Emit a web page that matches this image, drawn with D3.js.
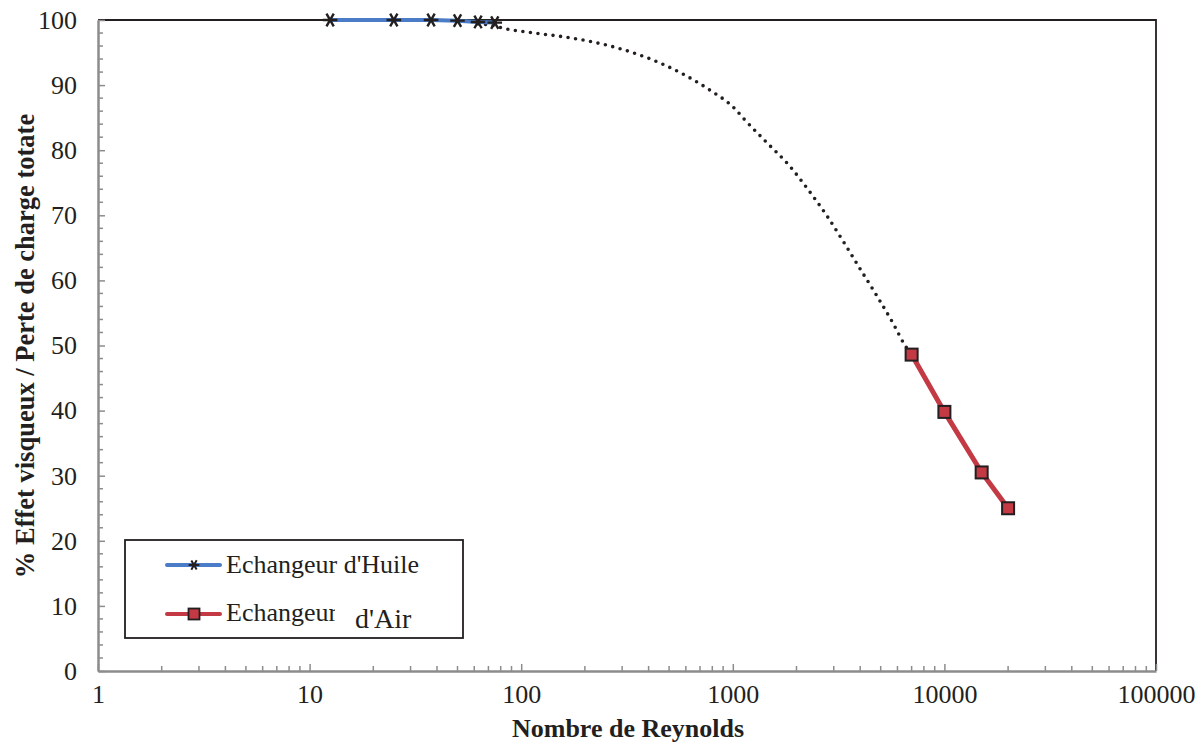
<!DOCTYPE html>
<html>
<head>
<meta charset="utf-8">
<script src="https://cdn.jsdelivr.net/npm/d3@7"></script>
</head>
<body style="margin:0">
<script>
// Echangeur d'Huile
var huileRe   = [12.5, 25, 37.5, 50, 62.5, 75];
var huileVal  = [100, 100, 100, 99.9, 99.7, 99.6];

// Echangeur d'Air
var airRe     = [7000, 10000, 15000, 20000];
var airVal    = [48.6, 39.8, 30.5, 25];

// courbe de transition (pointillé)
var transRe   = [62.5, 75, 83, 109, 152, 212, 300, 416, 566, 765, 1020, 1137, 1445, 1842, 2275, 2787, 3355, 4027, 4823, 5743, 6518, 7000];
var transVal  = [99.4, 99.1, 98.7, 98.1, 97.5, 96.7, 95.5, 93.9, 91.9, 89.4, 86.4, 84.7, 81.2, 77.7, 73.9, 69.9, 65.8, 61.6, 57.5, 53.3, 50.0, 48.6];

var xTicks    = [1, 10, 100, 1000, 10000, 100000];
var yTicks    = [0, 10, 20, 30, 40, 50, 60, 70, 80, 90, 100];

var svgW = 1204;
var svgH = 744;
var x0 = 98, x1 = 1156, y0 = 671, y1 = 20;
var police = "'Liberation Serif'";
var encre = "#231f20";

var svg = d3.select("body")
            .append("svg")
            .attr("width", svgW)
            .attr("height", svgH)
            .style("font-family", police);

var xScale = d3.scaleLog()
               .domain([1, 100000])
               .range([x0, x1]);

var yScale = d3.scaleLinear()
               .domain([0, 100])
               .range([y0, y1]);

// ---- cadre haut / droit
svg.append("path")
   .attr("d", "M" + x0 + "," + y1 + "H" + x1 + "V" + y0)
   .attr("fill", "none")
   .attr("stroke", encre)
   .attr("stroke-width", 1.8);

// ---- ticks mineurs X (vers l'intérieur)
var minorX = [];
for (var dec = 1; dec < 100000; dec *= 10) {
  for (var k = 2; k <= 9; k++) minorX.push(dec * k);
}
svg.append("g")
   .selectAll("line")
   .data(minorX)
   .enter()
   .append("line")
   .attr("x1", function (d) { return xScale(d); })
   .attr("x2", function (d) { return xScale(d); })
   .attr("y1", y0)
   .attr("y2", y0 - 5)
   .attr("stroke", "#8c8c8c")
   .attr("stroke-width", 1.5);

// ---- axe X
var xAxis = d3.axisBottom(xScale)
              .tickValues(xTicks)
              .tickFormat(d3.format("d"))
              .tickSizeInner(-7)
              .tickSizeOuter(0);

var gx = svg.append("g")
            .attr("transform", "translate(0," + y0 + ")")
            .call(xAxis)
            .attr("font-family", null)
            .attr("font-size", null);
gx.select(".domain").attr("stroke", "#8c8c8c").attr("stroke-width", 2.5);
gx.selectAll(".tick line").attr("stroke", "#8c8c8c").attr("stroke-width", 1.5);
gx.selectAll(".tick text")
  .attr("y", 32)
  .attr("dy", null)
  .attr("font-size", "26px")
  .attr("fill", encre);

// ---- ticks mineurs Y
var minorY = d3.range(0, 101, 2).filter(function (d) { return d % 10 !== 0; });
svg.append("g")
   .selectAll("line")
   .data(minorY)
   .enter()
   .append("line")
   .attr("x1", x0)
   .attr("x2", x0 + 5)
   .attr("y1", function (d) { return yScale(d); })
   .attr("y2", function (d) { return yScale(d); })
   .attr("stroke", "#8c8c8c")
   .attr("stroke-width", 1.5);

// ---- axe Y
var yAxis = d3.axisLeft(yScale)
              .tickValues(yTicks)
              .tickSizeInner(-7)
              .tickSizeOuter(0)
              .tickPadding(21);

var gy = svg.append("g")
            .attr("transform", "translate(" + x0 + ",0)")
            .call(yAxis)
            .attr("font-family", null)
            .attr("font-size", null);
gy.select(".domain").attr("stroke", "#8c8c8c").attr("stroke-width", 2.5);
gy.selectAll(".tick line").attr("stroke", "#8c8c8c").attr("stroke-width", 1.5);
gy.selectAll(".tick text")
  .attr("font-size", "26px")
  .attr("fill", encre);

// ---- titres
svg.append("text")
   .attr("x", 628)
   .attr("y", 737)
   .attr("text-anchor", "middle")
   .attr("font-size", "26px")
   .attr("font-weight", "bold")
   .attr("fill", encre)
   .text("Nombre de Reynolds");

svg.append("text")
   .attr("transform", "translate(34,346) rotate(-90)")
   .attr("text-anchor", "middle")
   .attr("font-size", "26.5px")
   .attr("font-weight", "bold")
   .attr("fill", encre)
   .text("% Effet visqueux / Perte de charge totate");

var line = d3.line()
             .x(function (d) { return xScale(d[0]); })
             .y(function (d) { return yScale(d[1]); });

var curve = d3.line()
              .x(function (d) { return xScale(d[0]); })
              .y(function (d) { return yScale(d[1]); })
              .curve(d3.curveMonotoneX);

// ---- courbe pointillée
svg.append("path")
   .attr("d", curve(d3.zip(transRe, transVal)))
   .attr("fill", "none")
   .attr("stroke", encre)
   .attr("stroke-width", 3.6)
   .attr("stroke-linecap", "round")
   .attr("stroke-dasharray", "0 7.6");

// ---- huile
svg.append("path")
   .attr("d", line(d3.zip(huileRe, huileVal)))
   .attr("fill", "none")
   .attr("stroke", "#4a7cc7")
   .attr("stroke-width", 4);

var star = d3.symbol().type(d3.symbolAsterisk).size(150);
svg.append("g")
   .selectAll("path")
   .data(d3.zip(huileRe, huileVal))
   .enter()
   .append("path")
   .attr("d", star)
   .attr("transform", function (d) { return "translate(" + xScale(d[0]) + "," + yScale(d[1]) + ") rotate(30)"; })
   .attr("fill", "none")
   .attr("stroke", encre)
   .attr("stroke-width", 2.4);

// ---- air
svg.append("path")
   .attr("d", line(d3.zip(airRe, airVal)))
   .attr("fill", "none")
   .attr("stroke", "#c33a44")
   .attr("stroke-width", 5);

svg.append("g")
   .selectAll("rect")
   .data(d3.zip(airRe, airVal))
   .enter()
   .append("rect")
   .attr("x", function (d) { return xScale(d[0]) - 6; })
   .attr("y", function (d) { return yScale(d[1]) - 6; })
   .attr("width", 12)
   .attr("height", 12)
   .attr("fill", "#c33a44")
   .attr("stroke", encre)
   .attr("stroke-width", 2);

// ---- légende
var leg = svg.append("g");
leg.append("rect")
   .attr("x", 125).attr("y", 540)
   .attr("width", 338).attr("height", 98)
   .attr("fill", "#fff")
   .attr("stroke", encre)
   .attr("stroke-width", 1.8);

leg.append("clipPath")
   .attr("id", "coupe")
   .append("rect")
   .attr("x", 120).attr("y", 540).attr("width", 215).attr("height", 98);

leg.append("line")
   .attr("x1", 167).attr("x2", 220).attr("y1", 565).attr("y2", 565)
   .attr("stroke", "#4a7cc7").attr("stroke-width", 4).attr("stroke-linecap", "round");
leg.append("path")
   .attr("d", d3.symbol().type(d3.symbolAsterisk).size(80))
   .attr("transform", "translate(194,565) rotate(30)")
   .attr("fill", "none").attr("stroke", encre).attr("stroke-width", 2);
leg.append("text")
   .attr("x", 226).attr("y", 573)
   .attr("font-size", "26px")
   .attr("fill", encre)
   .text("Echangeur d'Huile");

leg.append("line")
   .attr("x1", 167).attr("x2", 220).attr("y1", 614).attr("y2", 614)
   .attr("stroke", "#c33a44").attr("stroke-width", 4).attr("stroke-linecap", "round");
leg.append("rect")
   .attr("x", 188.5).attr("y", 608.5).attr("width", 11).attr("height", 11)
   .attr("fill", "#c33a44").attr("stroke", encre).attr("stroke-width", 1.8);
leg.append("text")
   .attr("x", 226).attr("y", 621)
   .attr("font-size", "26px")
   .attr("fill", encre)
   .attr("clip-path", "url(#coupe)")
   .text("Echangeur");
leg.append("text")
   .attr("x", 355).attr("y", 628)
   .attr("font-size", "28px")
   .attr("fill", encre)
   .text("d'Air");
</script>
</body>
</html>
